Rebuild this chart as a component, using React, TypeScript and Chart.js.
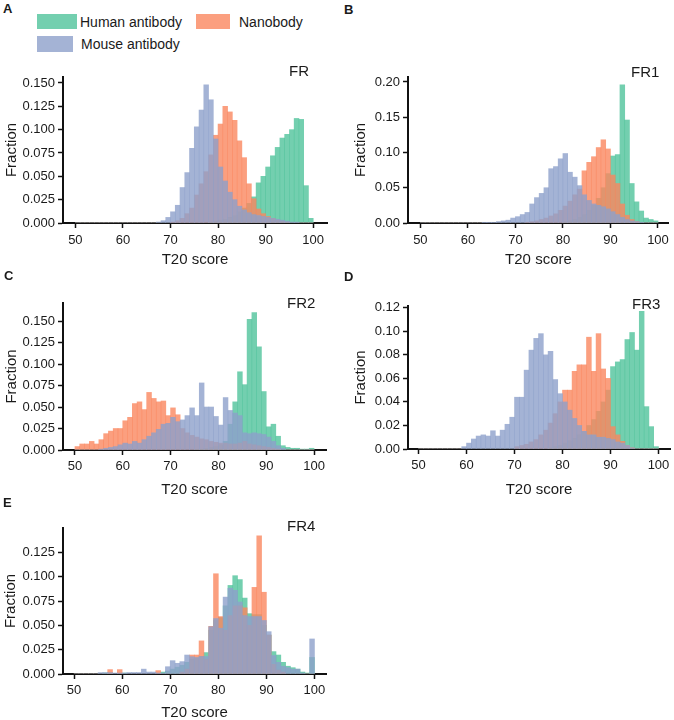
import React, { useEffect, useRef } from 'react';
import { Chart, registerables } from 'chart.js';

Chart.register(...registerables);

// Histogram bin starts (bin width 1), T20 score
const binStarts = [
  50, 51, 52, 53, 54, 55, 56, 57, 58, 59,
  60, 61, 62, 63, 64, 65, 66, 67, 68, 69,
  70, 71, 72, 73, 74, 75, 76, 77, 78, 79,
  80, 81, 82, 83, 84, 85, 86, 87, 88, 89,
  90, 91, 92, 93, 94, 95, 96, 97, 98, 99,
];
const xTickValues = [50, 60, 70, 80, 90, 100];

// ---- Panel A: FR ----
const humanFR = [
  0, 0, 0, 0, 0, 0, 0, 0, 0, 0,
  0, 0, 0, 0, 0, 0, 0, 0, 0, 0,
  0, 0, 0, 0, 0, 0, 0, 0, 0.001, 0.002,
  0.003, 0.004, 0.006, 0.008, 0.012, 0.016, 0.021, 0.028, 0.043, 0.05,
  0.06, 0.072, 0.081, 0.091, 0.095, 0.1, 0.112, 0.111, 0.04, 0.005,
];
const nanoFR = [
  0, 0, 0, 0, 0, 0, 0, 0, 0, 0,
  0, 0, 0, 0, 0, 0, 0, 0, 0, 0,
  0.001, 0.0025, 0.005, 0.01, 0.016, 0.03, 0.042, 0.055, 0.073, 0.094,
  0.106, 0.125, 0.119, 0.11, 0.088, 0.07, 0.042, 0.026, 0.015, 0.01,
  0.007, 0.005, 0.003, 0.002, 0.001, 0, 0, 0, 0, 0,
];
const mouseFR = [
  0, 0, 0, 0, 0, 0, 0, 0, 0, 0,
  0, 0, 0, 0, 0, 0, 0, 0.001, 0.0025, 0.006,
  0.012, 0.019, 0.038, 0.054, 0.08, 0.103, 0.121, 0.148, 0.132, 0.09,
  0.06, 0.045, 0.033, 0.025, 0.018, 0.014, 0.011, 0.009, 0.008, 0.007,
  0.006, 0.005, 0.004, 0.003, 0.002, 0.001, 0.001, 0, 0, 0,
];

// ---- Panel B: FR1 ----
const humanFR1 = [
  0, 0, 0, 0, 0, 0, 0, 0, 0, 0,
  0, 0, 0, 0, 0, 0, 0, 0, 0, 0,
  0, 0, 0, 0, 0, 0, 0, 0, 0, 0,
  0.002, 0.003, 0.005, 0.008, 0.012, 0.018, 0.025, 0.035, 0.05, 0.07,
  0.095, 0.097, 0.196, 0.146, 0.056, 0.03, 0.017, 0.007, 0.005, 0.003,
];
const nanoFR1 = [
  0, 0, 0, 0, 0, 0, 0, 0, 0, 0,
  0, 0, 0, 0, 0, 0, 0, 0, 0, 0,
  0, 0, 0.001, 0.002, 0.003, 0.005, 0.007, 0.01, 0.013, 0.018,
  0.024, 0.031, 0.04, 0.048, 0.074, 0.086, 0.094, 0.107, 0.118, 0.105,
  0.068, 0.056, 0.027, 0.011, 0.005, 0.002, 0, 0, 0, 0,
];
const mouseFR1 = [
  0, 0, 0, 0, 0, 0, 0, 0, 0, 0,
  0, 0, 0, 0.001, 0.001, 0.001, 0.002, 0.003, 0.004, 0.007,
  0.009, 0.012, 0.015, 0.027, 0.036, 0.042, 0.05, 0.077, 0.08, 0.091,
  0.0985, 0.072, 0.065, 0.053, 0.04, 0.032, 0.027, 0.025, 0.023, 0.02,
  0.016, 0.012, 0.008, 0.005, 0.003, 0.002, 0.001, 0, 0, 0,
];

// ---- Panel C: FR2 ----
const humanFR2 = [
  0, 0, 0, 0, 0, 0, 0, 0, 0, 0,
  0, 0, 0, 0, 0, 0, 0, 0, 0, 0,
  0, 0, 0, 0, 0, 0.001, 0.001, 0.002, 0.003, 0.004,
  0.006, 0.01, 0.03, 0.056, 0.091, 0.076, 0.152, 0.16, 0.12, 0.068,
  0.027, 0.03, 0.016, 0.005, 0.003, 0.002, 0.002, 0.001, 0.001, 0.002,
];
const nanoFR2 = [
  0.004, 0.007, 0.007, 0.01, 0.007, 0.012, 0.019, 0.022, 0.025, 0.025,
  0.034, 0.038, 0.054, 0.056, 0.047, 0.067, 0.06, 0.056, 0.057, 0.04,
  0.049, 0.041, 0.025, 0.02, 0.017, 0.015, 0.013, 0.012, 0.01, 0.009,
  0.008, 0.008, 0.007, 0.007, 0.008, 0.01, 0.007, 0.006, 0.005, 0.004,
  0.003, 0.002, 0.001, 0, 0, 0, 0, 0, 0, 0,
];
const mouseFR2 = [
  0, 0, 0, 0, 0, 0.001, 0.002, 0.003, 0.004, 0.006,
  0.008, 0.007, 0.01, 0.008, 0.012, 0.016, 0.02, 0.024, 0.03, 0.031,
  0.038, 0.033, 0.035, 0.04, 0.049, 0.04, 0.078, 0.05, 0.05, 0.039,
  0.029, 0.061, 0.046, 0.043, 0.04, 0.02, 0.019, 0.02, 0.019, 0.018,
  0.015, 0.01, 0.005, 0.002, 0, 0, 0, 0, 0, 0,
];

// ---- Panel D: FR3 ----
const humanFR3 = [
  0, 0, 0, 0, 0, 0, 0, 0, 0, 0,
  0, 0, 0, 0, 0, 0, 0, 0, 0, 0,
  0, 0, 0, 0, 0, 0, 0, 0.001, 0.002, 0.003,
  0.005, 0.007, 0.009, 0.012, 0.015, 0.02, 0.025, 0.032, 0.04, 0.05,
  0.07, 0.074, 0.076, 0.093, 0.099, 0.084, 0.117, 0.036, 0.019, 0.002,
];
const nanoFR3 = [
  0, 0, 0, 0, 0, 0, 0, 0, 0, 0,
  0, 0, 0, 0, 0, 0, 0, 0, 0, 0,
  0.002, 0.003, 0.004, 0.006, 0.008, 0.012, 0.016, 0.022, 0.03, 0.04,
  0.05, 0.05, 0.066, 0.0715, 0.0715, 0.095, 0.066, 0.098, 0.068, 0.06,
  0.019, 0.012, 0.0065, 0.003, 0.001, 0, 0, 0, 0, 0,
];
const mouseFR3 = [
  0, 0, 0, 0, 0, 0, 0, 0, 0, 0.002,
  0.005, 0.0085, 0.011, 0.012, 0.011, 0.0155, 0.011, 0.016, 0.021, 0.027,
  0.044, 0.044, 0.067, 0.084, 0.094, 0.098, 0.08, 0.083, 0.059, 0.047,
  0.04, 0.033, 0.026, 0.02, 0.015, 0.012, 0.012, 0.01, 0.01, 0.009,
  0.008, 0.006, 0.005, 0.003, 0.001, 0, 0, 0, 0, 0,
];

// ---- Panel E: FR4 ----
const humanFR4 = [
  0, 0, 0, 0, 0, 0, 0.001, 0.001, 0, 0,
  0.001, 0, 0, 0, 0, 0, 0, 0, 0.002, 0.003,
  0.005, 0.007, 0.009, 0.012, 0.015, 0.016, 0.018, 0.022, 0.045, 0.055,
  0.058, 0.07, 0.091, 0.101, 0.097, 0.078, 0.062, 0.061, 0.061, 0.05,
  0.04, 0.023, 0.0195, 0.012, 0.008, 0.0065, 0.005, 0.002, 0.001, 0.017,
];
const nanoFR4 = [
  0, 0, 0, 0, 0, 0, 0, 0.0045, 0, 0.0045,
  0, 0, 0, 0, 0, 0, 0, 0.0035, 0, 0,
  0, 0, 0.002, 0.005, 0.0195, 0.0195, 0.034, 0.015, 0.049, 0.103,
  0.059, 0.045, 0.06, 0.07, 0.07, 0.068, 0.05, 0.089, 0.142, 0.084,
  0.04, 0.01, 0.004, 0.002, 0, 0, 0, 0, 0, 0,
];
const mouseFR4 = [
  0, 0, 0, 0, 0, 0.0014, 0.0014, 0.0014, 0.001, 0.001,
  0.001, 0.0015, 0.0015, 0.0015, 0.005, 0.002, 0.002, 0.001, 0.001, 0.0075,
  0.0137, 0.011, 0.0127, 0.0195, 0.0178, 0.017, 0.018, 0.018, 0.0486, 0.057,
  0.047, 0.079, 0.088, 0.086, 0.074, 0.06, 0.059, 0.059, 0.059, 0.055,
  0.0435, 0.019, 0.012, 0.008, 0.0065, 0.005, 0.005, 0.001, 0, 0.036,
];

// Y tick labels per panel
const yTicksFR = [0, 0.025, 0.05, 0.075, 0.1, 0.125, 0.15];
const yTicksFR1 = [0, 0.05, 0.1, 0.15, 0.2];
const yTicksFR2 = [0, 0.025, 0.05, 0.075, 0.1, 0.125, 0.15];
const yTicksFR3 = [0, 0.02, 0.04, 0.06, 0.08, 0.1, 0.12];
const yTicksFR4 = [0, 0.025, 0.05, 0.075, 0.1, 0.125];

const seriesNames = ['Human antibody', 'Nanobody', 'Mouse antibody'];

const GREEN = 'rgba(80, 195, 155, 0.8)';
const ORANGE = 'rgba(250, 135, 95, 0.8)';
const BLUE = 'rgba(141, 160, 203, 0.8)';
const FONT = "'Liberation Sans', Arial, Helvetica, sans-serif";
const TEXT = '#1a1a1a';
const AXIS = '#111';

type PanelSpec = {
  left: number;
  plotTop: number;
  plotBottom: number;
  axisX: number;
  plotRight: number;
  xMin: number;
  xMax: number;
  yMax: number;
  yTicks: number[];
  decimals: number;
  xTickPad: number;
  xTitlePad: number;
  yTitlePad: number;
  human: number[];
  nano: number[];
  mouse: number[];
};

const X_SCALE_H = 50;
const TOP_PAD = 20;

const panels: PanelSpec[] = [
  { left: 0, plotTop: 77, plotBottom: 223, axisX: 63, plotRight: 327, xMin: 47.4, xMax: 102.9, yMax: 0.1564, yTicks: yTicksFR, decimals: 3, xTickPad: 5, xTitlePad: 4, yTitlePad: 3, human: humanFR, nano: nanoFR, mouse: mouseFR },
  { left: 337, plotTop: 77, plotBottom: 223, axisX: 408, plotRight: 670, xMin: 47.4, xMax: 102.3, yMax: 0.207, yTicks: yTicksFR1, decimals: 2, xTickPad: 5, xTitlePad: 4, yTitlePad: 15, human: humanFR1, nano: nanoFR1, mouse: mouseFR1 },
  { left: 0, plotTop: 303, plotBottom: 450, axisX: 63, plotRight: 326, xMin: 47.5, xMax: 102.5, yMax: 0.171, yTicks: yTicksFR2, decimals: 3, xTickPad: 4, xTitlePad: 1, yTitlePad: 3, human: humanFR2, nano: nanoFR2, mouse: mouseFR2 },
  { left: 337, plotTop: 306, plotBottom: 449, axisX: 408, plotRight: 670, xMin: 47.8, xMax: 102.4, yMax: 0.1215, yTicks: yTicksFR3, decimals: 2, xTickPad: 4, xTitlePad: 0, yTitlePad: 15, human: humanFR3, nano: nanoFR3, mouse: mouseFR3 },
  { left: 0, plotTop: 528, plotBottom: 674, axisX: 63, plotRight: 326, xMin: 47.7, xMax: 102.4, yMax: 0.15, yTicks: yTicksFR4, decimals: 3, xTickPad: 4, xTitlePad: 2, yTitlePad: 2, human: humanFR4, nano: nanoFR4, mouse: mouseFR4 },
];

function toXY(values: number[]) {
  return binStarts.map((b, i) => ({ x: b + 0.5, y: values[i] }));
}

function Panel({ spec }: { spec: PanelSpec }) {
  const ref = useRef<HTMLCanvasElement>(null);
  const width = 337;
  const top = spec.plotTop - TOP_PAD;
  const height = spec.plotBottom - top + X_SCALE_H;

  useEffect(() => {
    const canvas = ref.current;
    if (!canvas) return;
    const common = { grouped: false, barPercentage: 1, categoryPercentage: 1, borderWidth: 0 };
    const chart = new Chart(canvas, {
      type: 'bar',
      data: {
        datasets: [
          { label: seriesNames[0], data: toXY(spec.human), backgroundColor: GREEN, order: 3, ...common },
          { label: seriesNames[1], data: toXY(spec.nano), backgroundColor: ORANGE, order: 2, ...common },
          { label: seriesNames[2], data: toXY(spec.mouse), backgroundColor: BLUE, order: 1, ...common },
        ] as any,
      },
      options: {
        responsive: false,
        animation: false,
        devicePixelRatio: 1,
        layout: { padding: { top: TOP_PAD, left: 0, bottom: 0, right: spec.left + width - spec.plotRight } },
        plugins: { legend: { display: false }, tooltip: { enabled: false }, title: { display: false } },
        scales: {
          x: {
            type: 'linear',
            min: spec.xMin,
            max: spec.xMax,
            offset: false,
            afterBuildTicks: (s: any) => { s.ticks = xTickValues.map((v) => ({ value: v })); },
            afterFit: (s: any) => { s.height = X_SCALE_H; },
            ticks: { font: { family: FONT, size: 13 }, color: TEXT, padding: spec.xTickPad, maxRotation: 0, autoSkip: false, callback: (v: any) => String(v) },
            grid: { display: true, drawOnChartArea: false, drawTicks: true, tickLength: 5, tickWidth: 1.5, tickColor: AXIS, offset: false },
            border: { display: true, color: AXIS, width: 2 },
            title: { display: true, text: 'T20 score', font: { family: FONT, size: 15 }, color: TEXT, padding: { top: 0, bottom: spec.xTitlePad } },
          },
          y: {
            type: 'linear',
            min: 0,
            max: spec.yMax,
            afterBuildTicks: (s: any) => { s.ticks = spec.yTicks.map((v) => ({ value: v })); },
            afterFit: (s: any) => { s.width = spec.axisX - spec.left; },
            ticks: { font: { family: FONT, size: 13 }, color: TEXT, padding: 3, callback: (v: any) => Number(v).toFixed(spec.decimals) },
            grid: { display: true, drawOnChartArea: false, drawTicks: true, tickLength: 5, tickWidth: 1.5, tickColor: AXIS },
            border: { display: true, color: AXIS, width: 2 },
            title: { display: true, text: 'Fraction', font: { family: FONT, size: 15 }, color: TEXT, padding: { top: spec.yTitlePad, bottom: 0 } },
          },
        },
      } as any,
    });
    return () => chart.destroy();
  }, [spec]);

  return (
    <canvas
      ref={ref}
      width={width}
      height={height}
      style={{ position: 'absolute', left: spec.left, top, width, height }}
    />
  );
}

const textBase: React.CSSProperties = { position: 'absolute', fontFamily: FONT, color: TEXT, lineHeight: 1, whiteSpace: 'nowrap' };

export default function App() {
  return (
    <div style={{ position: 'absolute', left: 0, top: 0, width: 674, height: 720, background: '#fff', overflow: 'hidden' }}>
      {panels.map((p, i) => <Panel key={i} spec={p} />)}

      {/* panel letters */}
      <div style={{ ...textBase, left: 3, top: 2, fontSize: 13, fontWeight: 'bold' }}>A</div>
      <div style={{ ...textBase, left: 344, top: 3, fontSize: 13, fontWeight: 'bold' }}>B</div>
      <div style={{ ...textBase, left: 4, top: 269, fontSize: 13, fontWeight: 'bold' }}>C</div>
      <div style={{ ...textBase, left: 344, top: 270, fontSize: 13, fontWeight: 'bold' }}>D</div>
      <div style={{ ...textBase, left: 3, top: 496, fontSize: 13, fontWeight: 'bold' }}>E</div>

      {/* region labels */}
      <div style={{ ...textBase, left: 289, top: 63, fontSize: 15 }}>FR</div>
      <div style={{ ...textBase, left: 631, top: 64, fontSize: 15 }}>FR1</div>
      <div style={{ ...textBase, left: 287, top: 295, fontSize: 15 }}>FR2</div>
      <div style={{ ...textBase, left: 632, top: 296, fontSize: 15 }}>FR3</div>
      <div style={{ ...textBase, left: 287, top: 518, fontSize: 15 }}>FR4</div>

      {/* legend */}
      <div style={{ position: 'absolute', left: 37, top: 14, width: 40, height: 15, background: GREEN }} />
      <div style={{ ...textBase, left: 80, top: 15, fontSize: 14 }}>{seriesNames[0]}</div>
      <div style={{ position: 'absolute', left: 196, top: 14, width: 34, height: 15, background: ORANGE }} />
      <div style={{ ...textBase, left: 239, top: 15, fontSize: 14 }}>{seriesNames[1]}</div>
      <div style={{ position: 'absolute', left: 37, top: 36, width: 36, height: 16, background: BLUE }} />
      <div style={{ ...textBase, left: 81, top: 37, fontSize: 14 }}>{seriesNames[2]}</div>
    </div>
  );
}
